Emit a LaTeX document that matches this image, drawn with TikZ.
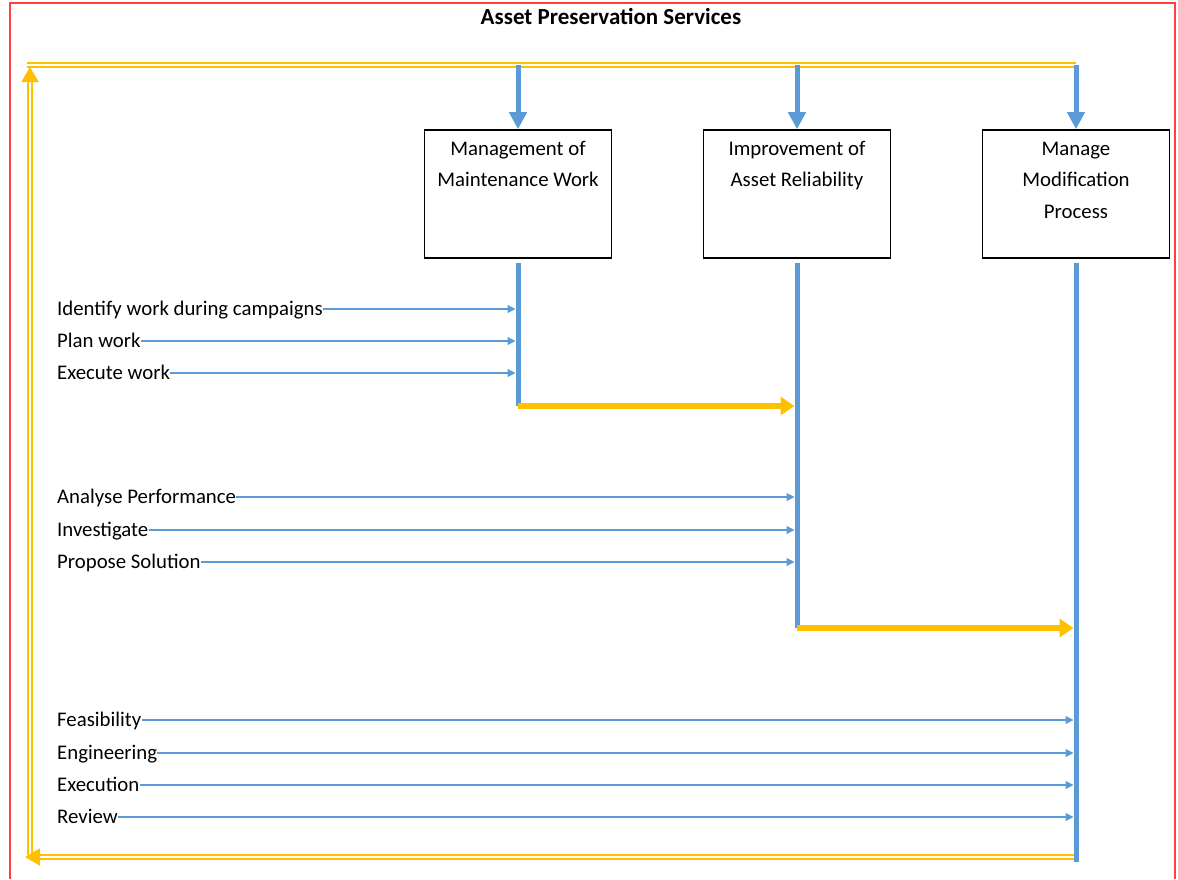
\documentclass[tikz,border=0pt]{standalone}
\usepackage{fontspec}
\setmainfont{Carlito}
\usetikzlibrary{arrows.meta, positioning}
\definecolor{apblue}{HTML}{5B9BD5}
\definecolor{apyellow}{HTML}{FFC000}
\definecolor{apframe}{HTML}{FF4040}

\begin{document}
\begin{tikzpicture}[x=1pt, y=-1pt, font=\fontsize{20.8}{31.5}\selectfont,
  procbox/.style={draw=black, line width=1.6pt, minimum width=187pt, minimum height=128pt, inner sep=0pt},
  boxtext/.style={align=center, inner sep=0pt},
  tasklabel/.style={anchor=west, inner sep=0pt, text height=16pt, text depth=3pt},
  feed/.style={draw=apblue, line width=1.1pt, -{Triangle[length=8pt,width=8pt]}, shorten >=2.5pt},
  spine/.style={draw=apblue, line width=5pt},
  drop/.style={spine, -{Triangle[length=17pt,width=17pt]}},
  handover/.style={draw=apyellow, line width=5.5pt, -{Triangle[length=14pt,width=18pt]}, shorten >=2.5pt},
  loopline/.style={draw=apyellow, double=white, line width=2pt, double distance=2pt},
  looptip/.style={-{Triangle[length=15pt,width=17pt]}}]

\useasboundingbox (0,0) rectangle (1178,879);
\draw[apframe, line width=1.5pt] (10,879) |- (1175,3) -- (1175,879);
\node[font=\fontsize{23}{26}\selectfont\bfseries] (title) at (611,16) {Asset Preservation Services};

% process boxes
\node[procbox] (mmw) at (518,194) {};
\node[procbox] (iar) at (797,194) {};
\node[procbox] (mmp) at (1076,194) {};
\node[boxtext, below=11.5pt of mmw.north] (mmwt) {Management of\\Maintenance Work};
\node[boxtext, below=11.5pt of iar.north] (iart) {Improvement of\\Asset Reliability};
\node[boxtext, below=12.5pt of mmp.north] (mmpt) {Manage\\Modification\\Process};

% feedback loop
\coordinate (tl) at (27,65);
\coordinate (tr) at (1076,65);
\coordinate (bl) at (25,857);
\coordinate (br) at (1078,857);
\coordinate (lb) at (30,855);
\coordinate (lt) at (30,67);
\draw[loopline] (tl) -- (tr);
\draw[loopline, looptip] (lb) -- (lt);
\draw[loopline, looptip] (br) -- (bl);

\foreach \b in {mmw, iar, mmp}
  \draw[drop] (\b.north |- tl) -- (\b.north);

% spines and hand-overs
\coordinate (h1) at (518,406);
\coordinate (h2) at (797,628);
\coordinate (bot) at (1076,862);
\draw[spine] ([yshift=-4pt]mmw.south) -- (h1);
\draw[spine] ([yshift=-4pt]iar.south) -- (h2);
\draw[spine] ([yshift=-4pt]mmp.south) -- (bot);
\draw[handover] (h1) -- (h1 -| iar);
\draw[handover] (h2) -- (h2 -| mmp);

% tasks
\node[tasklabel] (idw) at (57,309) {Identify work during campaigns};
\node[tasklabel] (plw) at (57,341) {Plan work};
\node[tasklabel] (exw) at (57,373) {Execute work};
\node[tasklabel] (anp) at (57,497) {Analyse Performance};
\node[tasklabel] (inv) at (57,530) {Investigate};
\node[tasklabel] (prs) at (57,562) {Propose Solution};
\node[tasklabel] (fea) at (57,720) {Feasibility};
\node[tasklabel] (eng) at (57,753) {Engineering};
\node[tasklabel] (exe) at (57,785) {Execution};
\node[tasklabel] (rev) at (57,817) {Review};
\foreach \t in {idw, plw, exw}
  \draw[feed] (\t) -- (\t -| mmw);
\foreach \t in {anp, inv, prs}
  \draw[feed] (\t) -- (\t -| iar);
\foreach \t in {fea, eng, exe, rev}
  \draw[feed] (\t) -- (\t -| mmp);
\end{tikzpicture}
\end{document}
